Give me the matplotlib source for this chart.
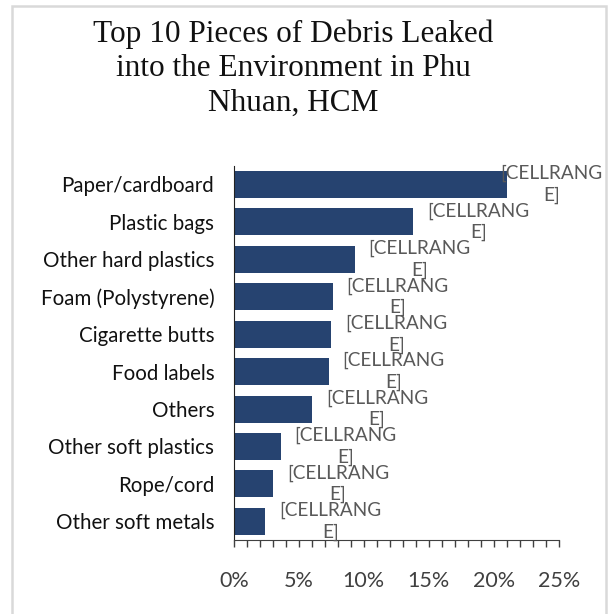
import matplotlib.pyplot as plt
from matplotlib.ticker import MultipleLocator, PercentFormatter
from matplotlib.patches import Rectangle

categories = ["Paper/cardboard", "Plastic bags", "Other hard plastics",
              "Foam (Polystyrene)", "Cigarette butts", "Food labels", "Others",
              "Other soft plastics", "Rope/cord", "Other soft metals"]
shares = [21.0, 13.8, 9.3, 7.6, 7.5, 7.3, 6.0, 3.6, 3.0, 2.4]
bar_labels = ["[CELLRANG\nE]"] * len(categories)

title = "Top 10 Pieces of Debris Leaked\ninto the Environment in Phu\nNhuan, HCM"
x_max = 25

fig = plt.figure(figsize=(6.12, 6.14), dpi=100)
ax = fig.add_axes([0.382, 0.1205, 0.531, 0.6095])

pos = list(range(len(categories)))
ax.barh(pos, shares, height=0.72, color="#264370", zorder=2)
ax.set_ylim(len(categories) - 0.5, -0.5)
ax.set_xlim(0, x_max)

ax.set_yticks(pos)
ax.set_yticklabels(categories, fontsize=14.8, family="Lato", color="#111111")
ax.tick_params(axis="y", length=0, pad=14)

ax.xaxis.set_major_locator(MultipleLocator(5))
ax.xaxis.set_minor_locator(MultipleLocator(1))
ax.xaxis.set_major_formatter(PercentFormatter(decimals=0))
ax.tick_params(axis="x", which="both", direction="out", length=5, width=1,
               color="#404040", labelsize=15.5, labelcolor="#404040", pad=17)
for lab in ax.get_xticklabels():
    lab.set_family("Lato")

for side in ("top", "right"):
    ax.spines[side].set_visible(False)
ax.spines["left"].set_color("#222222")
ax.spines["bottom"].set_color("#404040")

# value labels sit to the right of each bar, pulled back inside the chart when too long
for y, val, txt in zip(pos, shares, bar_labels):
    left = min(val + 1.08, 20.5)
    ax.text(left, y, txt, ha="left", va="center", multialignment="center",
            fontsize=13.7, family="Lato", color="#595959", linespacing=1.3,
            zorder=3, clip_on=False)

fig.text(0.479, 0.968, title, ha="center", va="top", fontsize=22.5,
         family="Liberation Serif", color="#111111", linespacing=1.24)

# light chart frame
fig.patches.append(Rectangle((11.5 / 612, -0.05), 594.5 / 612, 1 - 5.5 / 614 + 0.05,
                             transform=fig.transFigure, fill=False,
                             edgecolor="#d9d9d9", linewidth=1.8))

fig.savefig("out.png", dpi=100, facecolor="white")
